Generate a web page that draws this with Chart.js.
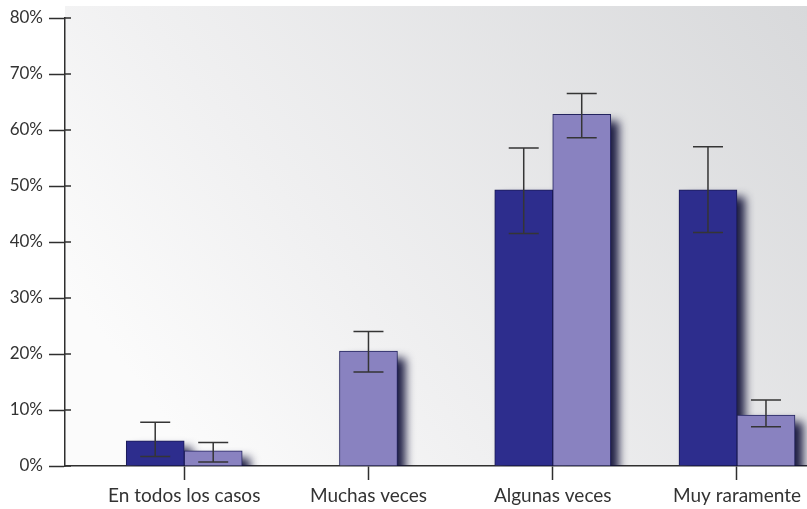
<!DOCTYPE html>
<html>
<head>
<meta charset="utf-8">
<script src="https://cdn.jsdelivr.net/npm/chart.js@4.4.1/dist/chart.umd.min.js"></script>
<style>
  html, body { margin: 0; padding: 0; background: #ffffff; overflow: hidden; }
  #chart { display: block; }
</style>
</head>
<body>
<canvas id="chart" width="807" height="509"></canvas>
<script>
// Response categories (x axis)
const categories = ['En todos los casos', 'Muchas veces', 'Algunas veces', 'Muy raramente'];

// Percentages for the two groups (null = no bar)
const seriesDark  = [4.5, null, 49.3, 49.3];
const seriesLight = [2.7, 20.5, 62.8, 9.1];

// Error bar limits (lower / upper, in %)
const darkLow   = [1.7, null, 41.5, 41.7];
const darkHigh  = [7.8, null, 56.8, 57.0];
const lightLow  = [0.7, 16.8, 58.6, 7.0];
const lightHigh = [4.2, 24.0, 66.5, 11.8];

// Y axis ticks
const yTicks = [0, 10, 20, 30, 40, 50, 60, 70, 80];

const AXIS = '#2f2f2f';
const TEXT = '#333333';

const toPoints = arr => arr.map((v, i) => ({ x: i + 1, y: v }));

// Gradient panel behind the plot area
const panelBackground = {
  id: 'panelBackground',
  beforeDraw(chart) {
    const { ctx, chartArea: a } = chart;
    ctx.save();
    ctx.fillStyle = '#ffffff';
    ctx.fillRect(0, 0, chart.width, chart.height);
    const top = 6;
    const g = ctx.createLinearGradient(200, a.bottom, chart.width, top);
    g.addColorStop(0, '#fbfbfb');
    g.addColorStop(0.3, '#f0f0f1');
    g.addColorStop(1, '#d8d9db');
    ctx.fillStyle = g;
    ctx.fillRect(a.left, top, chart.width - a.left, a.bottom - top);
    ctx.restore();
  }
};

// Soft drop shadow cast to the lower right of every bar
const barShadow = {
  id: 'barShadow',
  beforeDatasetsDraw(chart) {
    const { ctx, chartArea: a } = chart;
    ctx.save();
    ctx.beginPath();
    ctx.rect(a.left, 0, chart.width - a.left, a.bottom);
    ctx.clip();
    ctx.filter = 'blur(5px)';
    ctx.fillStyle = 'rgba(16, 16, 56, 0.95)';
    chart.data.datasets.forEach((ds, di) => {
      const meta = chart.getDatasetMeta(di);
      meta.data.forEach((bar, i) => {
        if (ds.data[i].y == null) return;
        const { x, y, base, width } = bar.getProps(['x', 'y', 'base', 'width'], true);
        const left = x - width / 2 + 8;
        const top = Math.min(y, base) + 7;
        ctx.fillRect(left, top, width, Math.abs(base - y) + 8);
      });
    });
    ctx.restore();
  }
};

// Error bars with caps + inner stubs of the y ticks
const errorBars = {
  id: 'errorBars',
  afterDatasetsDraw(chart) {
    const { ctx, scales: { y }, chartArea: a } = chart;
    const limits = [[darkLow, darkHigh], [lightLow, lightHigh]];
    ctx.save();
    ctx.strokeStyle = '#353535';
    ctx.lineWidth = 1.5;
    limits.forEach(([lo, hi], di) => {
      const meta = chart.getDatasetMeta(di);
      meta.data.forEach((bar, i) => {
        if (lo[i] == null || hi[i] == null) return;
        const x = bar.x;
        const yl = y.getPixelForValue(lo[i]);
        const yh = y.getPixelForValue(hi[i]);
        const cap = 15;
        ctx.beginPath();
        ctx.moveTo(x, yl); ctx.lineTo(x, yh);
        ctx.moveTo(x - cap, yh); ctx.lineTo(x + cap, yh);
        ctx.moveTo(x - cap, yl); ctx.lineTo(x + cap, yl);
        ctx.stroke();
      });
    });
    ctx.strokeStyle = AXIS;
    ctx.lineWidth = 1.5;
    yTicks.forEach(v => {
      const py = y.getPixelForValue(v);
      ctx.beginPath();
      ctx.moveTo(a.left, py);
      ctx.lineTo(a.left + 6, py);
      ctx.stroke();
    });
    ctx.restore();
  }
};

new Chart(document.getElementById('chart'), {
  type: 'bar',
  data: {
    datasets: [
      {
        data: toPoints(seriesDark),
        backgroundColor: '#2d2d8d',
        borderColor: '#1a1a55',
        borderWidth: 1
      },
      {
        data: toPoints(seriesLight),
        backgroundColor: '#8982c0',
        borderColor: '#23235e',
        borderWidth: 1
      }
    ]
  },
  plugins: [panelBackground, barShadow, errorBars],
  options: {
    responsive: false,
    animation: false,
    devicePixelRatio: 1,
    skipNull: true,
    barThickness: 58,
    layout: { padding: { top: 18, right: 0, left: 0, bottom: 0 } },
    plugins: {
      legend: { display: false },
      tooltip: { enabled: false }
    },
    scales: {
      x: {
        type: 'linear',
        offset: false,
        min: 0.353,
        max: 4.38,
        afterBuildTicks(scale) {
          scale.ticks = categories.map((_, i) => ({ value: i + 1 }));
        },
        afterFit(scale) { scale.height = 43; scale.paddingLeft = 0; scale.paddingRight = 0; },
        border: { display: true, color: AXIS, width: 1.5 },
        grid: {
          offset: false,
          drawOnChartArea: false,
          drawTicks: true,
          tickLength: 14,
          tickColor: AXIS,
          tickWidth: 1.5
        },
        ticks: {
          autoSkip: false,
          maxRotation: 0,
          padding: 4,
          color: TEXT,
          font: { family: 'Lato', size: 19 },
          callback: v => categories[Math.round(v) - 1] || ''
        }
      },
      y: {
        min: 0,
        max: 80,
        afterBuildTicks(scale) {
          scale.ticks = yTicks.map(v => ({ value: v }));
        },
        afterFit(scale) { scale.width = 65; },
        border: { display: true, color: AXIS, width: 1.5 },
        grid: {
          drawOnChartArea: false,
          drawTicks: true,
          tickLength: 16,
          tickColor: AXIS,
          tickWidth: 1.5
        },
        ticks: {
          padding: 6,
          color: TEXT,
          font: { family: 'Lato', size: 17 },
          callback: v => v + '%'
        }
      }
    }
  }
});
</script>
</body>
</html>
